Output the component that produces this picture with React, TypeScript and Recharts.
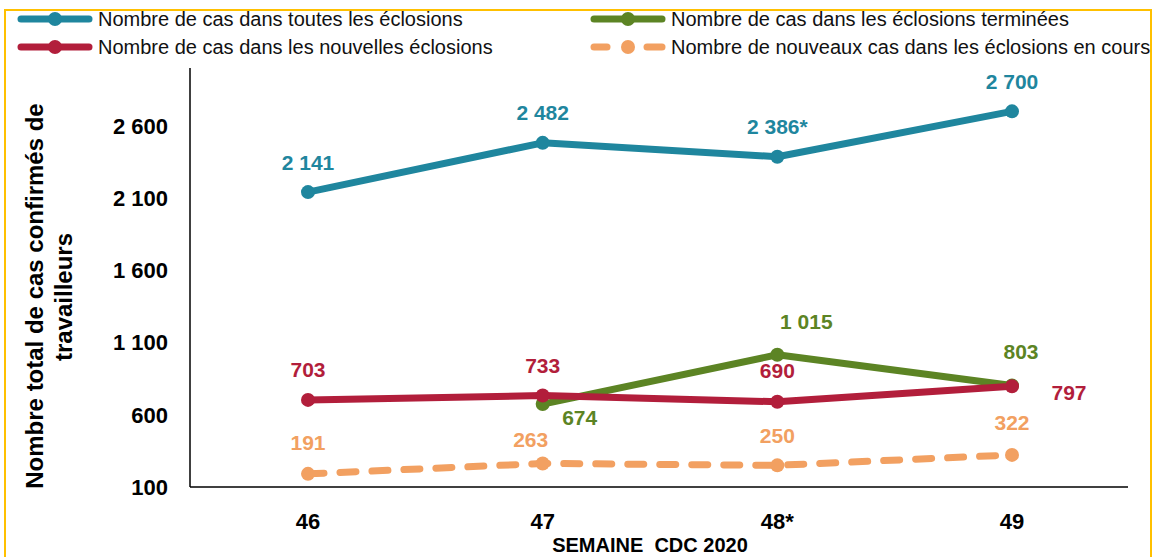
import React from "react";
import { LineChart, Line, XAxis, YAxis, Legend, LabelList } from "recharts";

const categories = ["46", "47", "48*", "49"];
const toutes = [2141, 2482, 2386, 2700];
const nouvelles = [703, 733, 690, 797];
const terminees: (number | null)[] = [null, 674, 1015, 803];
const nouveauxEnCours = [191, 263, 250, 322];
const toutesSuffix = ["", "", "*", ""];
const yTicks = [100, 600, 1100, 1600, 2100, 2600];

const BLUE = "#1F869E";
const RED = "#B21E3B";
const GREEN = "#5C8424";
const ORANGE = "#F2A061";
const FONT = "'Liberation Sans', Arial, Helvetica, sans-serif";

const data = categories.map((week, i) => ({
  week,
  toutes: toutes[i],
  nouvelles: nouvelles[i],
  terminees: terminees[i],
  encours: nouveauxEnCours[i],
}));

const fmt = (n: number) => String(n).replace(/\B(?=(\d{3})+(?!\d))/g, " ");

// label offsets (dx, dy) relative to the point
const blueOff = [[0, -30], [0, -30], [0, -30], [0, -30]];
const redOff = [[0, -30], [0, -30], [0, -31], [57, 6]];
const greenOff = [[0, 0], [37, 13], [29, -33], [9, -34]];
const orangeOff = [[0, -31], [-12, -24], [0, -30], [0, -32]];

const makeLabel = (color: string, off: number[][], suffix?: string[]) => (props: any) => {
  const { x, y, value, index } = props;
  if (value === null || value === undefined || x == null || y == null) return null;
  const o = off[index] || [0, -30];
  return (
    <text
      x={x + o[0]}
      y={y + o[1]}
      textAnchor="middle"
      dominantBaseline="central"
      fill={color}
      fontSize={21}
      fontWeight="bold"
      fontFamily={FONT}
    >
      {fmt(value) + (suffix ? suffix[index] : "")}
    </text>
  );
};

const legendItems = [
  { name: "Nombre de cas dans toutes les éclosions", color: BLUE, dashed: false, x: 18, y: 19 },
  { name: "Nombre de cas dans les nouvelles éclosions", color: RED, dashed: false, x: 18, y: 47 },
  { name: "Nombre de cas dans les éclosions terminées", color: GREEN, dashed: false, x: 591, y: 19 },
  { name: "Nombre de nouveaux cas dans les éclosions en cours", color: ORANGE, dashed: true, x: 591, y: 47 },
];

const renderLegend = () => (
  <svg width={1158} height={62} style={{ display: "block" }}>
    {legendItems.map((it) => (
      <g key={it.name}>
        {it.dashed ? (
          <>
            <line x1={it.x + 3} y1={it.y} x2={it.x + 16} y2={it.y} stroke={it.color} strokeWidth={7} strokeLinecap="round" />
            <circle cx={it.x + 37} cy={it.y} r={7} fill={it.color} />
            <line x1={it.x + 56} y1={it.y} x2={it.x + 71} y2={it.y} stroke={it.color} strokeWidth={7} strokeLinecap="round" />
          </>
        ) : (
          <>
            <line x1={it.x + 3} y1={it.y} x2={it.x + 71} y2={it.y} stroke={it.color} strokeWidth={7} strokeLinecap="round" />
            <circle cx={it.x + 37} cy={it.y} r={7} fill={it.color} />
          </>
        )}
        <text
          x={it.x + 80}
          y={it.y}
          dominantBaseline="central"
          fontSize={20}
          fontFamily={FONT}
          fill="#111"
        >
          {it.name}
        </text>
      </g>
    ))}
  </svg>
);

const YTitle = () => (
  <g>
    <text
      transform="translate(43,296) rotate(-90)"
      textAnchor="middle"
      fontSize={24}
      fontWeight="bold"
      fontFamily={FONT}
      fill="#000"
    >
      Nombre total de cas confirmés de
    </text>
    <text
      transform="translate(72,297) rotate(-90)"
      textAnchor="middle"
      fontSize={24}
      fontWeight="bold"
      fontFamily={FONT}
      fill="#000"
    >
      travailleurs
    </text>
  </g>
);

const XTitle = (props: any) => {
  const vb = props.viewBox || { x: 190, width: 938 };
  return (
    <text
      x={vb.x + vb.width / 2 - 9}
      y={552}
      textAnchor="middle"
      fontSize={20}
      fontWeight="bold"
      fontFamily={FONT}
      fill="#000"
      style={{ whiteSpace: "pre" }}
    >
      {"SEMAINE  CDC 2020"}
    </text>
  );
};

export default function App() {
  return (
    <div
      style={{
        position: "absolute",
        left: 0,
        top: 0,
        width: 1158,
        height: 557,
        background: "#fff",
        overflow: "hidden",
        fontFamily: FONT,
      }}
    >
      <div
        style={{
          position: "absolute",
          left: 4,
          top: 9,
          width: 1148,
          height: 580,
          border: "2px solid #FFC000",
          boxSizing: "border-box",
        }}
      />
      <div style={{ position: "absolute", left: 0, top: 0 }}>
        <LineChart
          width={1158}
          height={557}
          data={data}
          margin={{ top: 68, right: 30, bottom: 0, left: 0 }}
        >
          <XAxis
            dataKey="week"
            padding={{ left: 118, right: 116 }}
            axisLine={{ stroke: "#000", strokeWidth: 1.5 }}
            tickLine={false}
            tickSize={0}
            tickMargin={26}
            height={70}
            tick={{ fontSize: 22, fontWeight: "bold", fill: "#000", fontFamily: FONT }}
            label={<XTitle />}
          />
          <YAxis
            type="number"
            domain={[100, 3000]}
            ticks={yTicks}
            interval={0}
            tickFormatter={fmt}
            width={190}
            axisLine={{ stroke: "#000", strokeWidth: 1.5 }}
            tickLine={false}
            tickSize={0}
            tickMargin={22}
            tick={{ fontSize: 22, fontWeight: "bold", fill: "#000", fontFamily: FONT }}
            label={<YTitle />}
          />
          <Legend
            layout="vertical"
            verticalAlign="middle"
            align="center"
            content={renderLegend}
            wrapperStyle={{ top: 0, left: 0, width: 1158, height: 62 }}
          />
          <Line
            dataKey="encours"
            name="Nombre de nouveaux cas dans les éclosions en cours"
            stroke={ORANGE}
            strokeWidth={7}
            strokeDasharray="16 16"
            strokeLinecap="round"
            dot={{ r: 7, fill: ORANGE, stroke: "none", strokeWidth: 0 }}
            isAnimationActive={false}
          >
            <LabelList dataKey="encours" content={makeLabel(ORANGE, orangeOff)} />
          </Line>
          <Line
            dataKey="terminees"
            name="Nombre de cas dans les éclosions terminées"
            stroke={GREEN}
            strokeWidth={7}
            strokeLinecap="round"
            strokeLinejoin="round"
            dot={{ r: 7, fill: GREEN, stroke: "none", strokeWidth: 0 }}
            isAnimationActive={false}
          >
            <LabelList dataKey="terminees" content={makeLabel(GREEN, greenOff)} />
          </Line>
          <Line
            dataKey="nouvelles"
            name="Nombre de cas dans les nouvelles éclosions"
            stroke={RED}
            strokeWidth={7}
            strokeLinecap="round"
            strokeLinejoin="round"
            dot={{ r: 7, fill: RED, stroke: "none", strokeWidth: 0 }}
            isAnimationActive={false}
          >
            <LabelList dataKey="nouvelles" content={makeLabel(RED, redOff)} />
          </Line>
          <Line
            dataKey="toutes"
            name="Nombre de cas dans toutes les éclosions"
            stroke={BLUE}
            strokeWidth={7}
            strokeLinecap="round"
            strokeLinejoin="round"
            dot={{ r: 7, fill: BLUE, stroke: "none", strokeWidth: 0 }}
            isAnimationActive={false}
          >
            <LabelList dataKey="toutes" content={makeLabel(BLUE, blueOff, toutesSuffix)} />
          </Line>
        </LineChart>
      </div>
    </div>
  );
}
